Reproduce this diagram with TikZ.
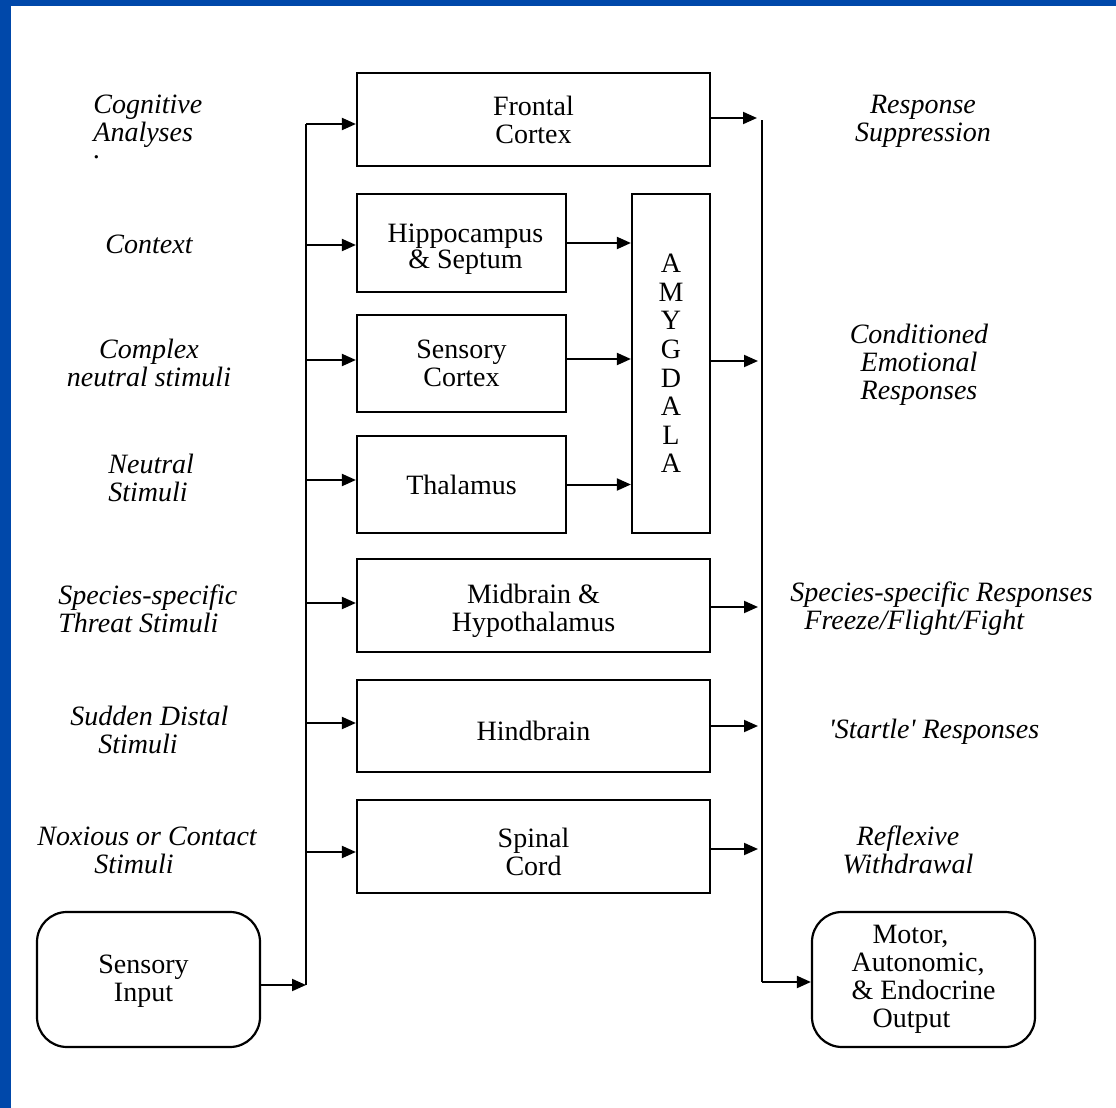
\documentclass[tikz,border=0pt]{standalone}
\usepackage{fontspec}
\setmainfont{Liberation Serif}
\usetikzlibrary{arrows.meta}
\definecolor{frameblue}{RGB}{0,72,170}
\begin{document}
\begin{tikzpicture}[x=0.5pt,y=-0.5pt,
  box/.style={draw,line width=1.1pt,inner sep=0pt,align=center,
              font=\fontsize{14}{14}\selectfont},
  boxtxt/.style={inner sep=0pt,align=center,font=\fontsize{14}{14}\selectfont},
  widebox/.style={box,minimum width=176.5pt,minimum height=46.5pt},
  smallbox/.style={box,minimum width=104.5pt,minimum height=48.5pt},
  rbox/.style={box,rounded corners=15pt,minimum width=111.5pt,minimum height=67.5pt},
  lbl/.style={inner sep=0pt,font=\fontsize{14}{14}\selectfont\itshape},
  wire/.style={line width=1pt},
  arr/.style={wire,-{Triangle[length=7pt,width=6pt]}}]

\useasboundingbox (0,0) rectangle (1116,1108);
% frame
\fill[frameblue] (0,0) rectangle (11,1108);
\fill[frameblue] (0,0) rectangle (1116,6);

% brain structures
\node[widebox] (frontal) at (533.5,119.5) {Frontal\\Cortex};
\node[smallbox,minimum height=49pt,
      label={[boxtxt,font=\fontsize{14}{12}\selectfont,xshift=2pt,yshift=-3pt]center:{Hippocampus\\\& Septum}}]
      (hippo) at (461.5,243) {};
\node[smallbox] (senscx) at (461.5,363.5) {Sensory\\Cortex};
\node[smallbox] (thal) at (461.5,484.5) {Thalamus};
\node[box,minimum width=39pt,minimum height=169.5pt,font=\fontsize{14}{14.3}\selectfont] (amyg) at (671,363.5) {A\\M\\Y\\G\\D\\A\\L\\A};
\node[widebox,label={[boxtxt,yshift=-2.5pt]center:{Midbrain \&\\Hypothalamus}}] (mid) at (533.5,605.5) {};
\node[widebox,minimum height=46pt,label={[boxtxt,yshift=-2.5pt]center:Hindbrain}] (hind) at (533.5,726) {};
\node[widebox,label={[boxtxt,yshift=-2.5pt]center:{Spinal\\Cord}}] (spinal) at (533.5,846.5) {};

% input and output
\node[rbox,label={[boxtxt,xshift=-2.5pt,yshift=-1pt]center:{Sensory\\Input}}] (sensin) at (148.5,979.5) {};
\node[rbox,align=left] (motor) at (923.5,979.5) {\hspace*{10.5pt}Motor,\\Autonomic,\\\& Endocrine\\\hspace*{10.5pt}Output};

% input bus
\coordinate (l1) at (306,124);
\coordinate (l2) at (306,245);
\coordinate (l3) at (306,360);
\coordinate (l4) at (306,480);
\coordinate (l5) at (306,603);
\coordinate (l6) at (306,723);
\coordinate (l7) at (306,852);
\coordinate (lbot) at (306,985);
\draw[wire] (l1) -- (lbot);
\draw[arr] (l1) -- (frontal.west |- l1);
\draw[arr] (l2) -- (hippo.west |- l2);
\draw[arr] (l3) -- (senscx.west |- l3);
\draw[arr] (l4) -- (thal.west |- l4);
\draw[arr] (l5) -- (mid.west |- l5);
\draw[arr] (l6) -- (hind.west |- l6);
\draw[arr] (l7) -- (spinal.west |- l7);
\draw[arr] (sensin.east |- lbot) -- (lbot);

% into the amygdala
\draw[arr] (hippo.east) -- (amyg.west |- hippo.east);
\coordinate (a2) at (566,359);
\draw[arr] (senscx.east |- a2) -- (amyg.west |- a2);
\draw[arr] (thal.east) -- (amyg.west |- thal.east);

% output bus
\coordinate (r1) at (762,118);
\coordinate (r2) at (762,361);
\coordinate (r3) at (762,607);
\coordinate (r4) at (762,726);
\coordinate (r5) at (762,849);
\coordinate (rbot) at (762,982);
\draw[wire] (762,120) -- (rbot);
\draw[arr,shorten >=2.5pt] (frontal.east |- r1) -- (r1);
\draw[arr,shorten >=2pt] (amyg.east |- r2) -- (r2);
\draw[arr,shorten >=2pt] (mid.east |- r3) -- (r3);
\draw[arr,shorten >=2pt] (hind.east |- r4) -- (r4);
\draw[arr,shorten >=2pt] (spinal.east |- r5) -- (r5);
\draw[arr] (rbot) -- (motor.west |- rbot);

% stimulus labels
\node[lbl,align=left,anchor=west] (cog) at (93,121) {Cognitive\\Analyses};
\node[lbl,anchor=base] (cogdot) at (97,158) {.};
\node[lbl] (ctx) at (149,244) {Context};
\node[lbl,align=center] (cplx) at (149,363) {Complex\\neutral stimuli};
\node[lbl,align=left,anchor=west] (neut) at (108,478) {Neutral\\Stimuli};
\node[lbl,align=left,anchor=west] (threat) at (58,609) {Species-specific\\Threat Stimuli};
\node[lbl,align=left,anchor=west] (sudden) at (70,730) {Sudden Distal\\\hspace*{14pt}Stimuli};
\node[lbl,align=left,anchor=west] (noxious) at (37,850) {Noxious or Contact\\\hspace*{28.5pt}Stimuli};

% response labels
\node[lbl,align=center] (supp) at (923,121) {Response\\Suppression};
\node[lbl,align=center] (cer) at (919,365) {Conditioned\\Emotional\\Responses};
\node[lbl,align=left,anchor=west] (ssr) at (790,609) {Species-specific Responses\\\hspace*{7pt}Freeze/Flight/Fight};
\node[lbl] (startle) at (934,732) {\textquotesingle Startle\textquotesingle{} Responses};
\node[lbl,align=center] (refl) at (908,850) {Reflexive\\Withdrawal};
\end{tikzpicture}
\end{document}
